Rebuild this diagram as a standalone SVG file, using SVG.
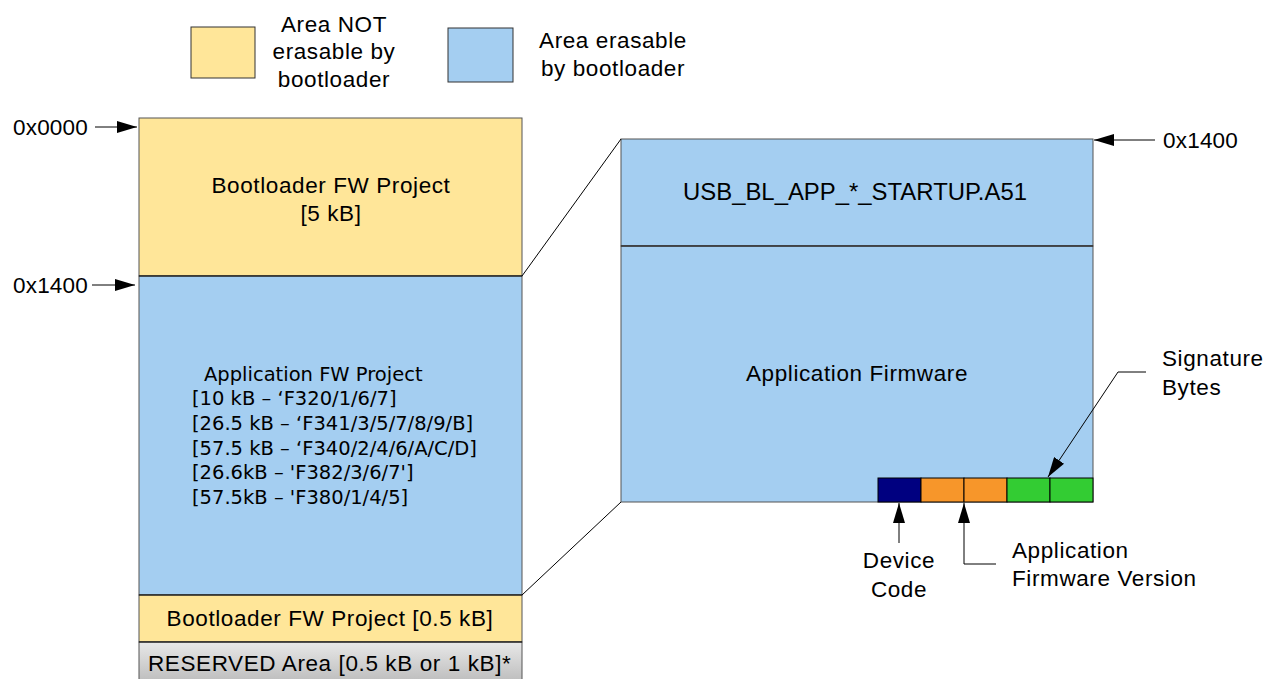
<svg xmlns="http://www.w3.org/2000/svg" width="1266" height="679" viewBox="0 0 1266 679">
<style>
.t{font-family:"Liberation Sans",Arial,sans-serif;font-size:22.5px;letter-spacing:0.6px;fill:#000}
.tah{font-family:"DejaVu Sans",Verdana,sans-serif;font-size:19.5px;fill:#000}
.yel{fill:#FFE699;stroke:#555;stroke-width:1}
.blu{fill:#A4CEF1;stroke:#555;stroke-width:1}
.ln{stroke:#000;stroke-width:1;fill:none}
</style>
<defs>
<marker id="ahw" viewBox="0 0 20 12" refX="20" refY="6" markerWidth="20" markerHeight="12" markerUnits="userSpaceOnUse" orient="auto">
<path d="M0,0 L20,6 L0,12 z" fill="#000"/>
</marker>
<linearGradient id="gray" x1="0" y1="0" x2="0" y2="1">
<stop offset="0" stop-color="#E8E8E8"/>
<stop offset="1" stop-color="#BDBDBD"/>
</linearGradient>
</defs>
<rect width="1266" height="679" fill="#fff"/>

<g id="legend-not">
<rect class="yel" x="191" y="27" width="64" height="51" style="stroke:#333"/>
<text class="t" x="334" y="32" text-anchor="middle">Area NOT</text>
<text class="t" x="334" y="59" text-anchor="middle">erasable by</text>
<text class="t" x="334" y="87" text-anchor="middle">bootloader</text>
</g>
<g id="legend-erasable">
<rect class="blu" x="448" y="28" width="65" height="54" style="stroke:#333"/>
<text class="t" x="613" y="48" text-anchor="middle">Area erasable</text>
<text class="t" x="613" y="76" text-anchor="middle">by bootloader</text>
</g>

<g id="bootloader-5kb">
<rect class="yel" x="139" y="118" width="383" height="158"/>
<text class="t" x="331" y="193" text-anchor="middle">Bootloader FW Project</text>
<text class="t" x="331" y="221" text-anchor="middle">[5 kB]</text>
</g>
<g id="application-fw">
<rect class="blu" x="139" y="276" width="383" height="319"/>
<text class="tah" x="204" y="381">Application FW Project</text>
<text class="tah" x="192" y="405">[10 kB – ‘F320/1/6/7]</text>
<text class="tah" x="192" y="430">[26.5 kB – ‘F341/3/5/7/8/9/B]</text>
<text class="tah" x="192" y="455">[57.5 kB – ‘F340/2/4/6/A/C/D]</text>
<text class="tah" x="192" y="479">[26.6kB – 'F382/3/6/7']</text>
<text class="tah" x="192" y="504">[57.5kB – 'F380/1/4/5]</text>
</g>
<g id="bootloader-05kb">
<rect class="yel" x="139" y="595" width="383" height="47"/>
<text class="t" x="330" y="626" text-anchor="middle">Bootloader FW Project [0.5 kB]</text>
</g>
<g id="reserved">
<rect x="139" y="642" width="383" height="40" fill="url(#gray)" stroke="#555"/>
<text class="t" x="148" y="671">RESERVED Area [0.5 kB or 1 kB]*</text>
</g>
<line x1="139" y1="276" x2="522" y2="276" stroke="#000"/>
<line x1="139" y1="595" x2="522" y2="595" stroke="#000"/>
<line x1="139" y1="642" x2="522" y2="642" stroke="#000"/>

<g id="startup">
<rect class="blu" x="621" y="139" width="472" height="107"/>
<text class="t" x="683" y="200" style="font-size:23.5px;letter-spacing:0" textLength="344" lengthAdjust="spacingAndGlyphs">USB_BL_APP_*_STARTUP.A51</text>
</g>
<g id="app-firmware">
<rect class="blu" x="621" y="246" width="472" height="256"/>
<text class="t" x="857" y="381" text-anchor="middle">Application Firmware</text>
</g>
<line x1="621" y1="246" x2="1093" y2="246" stroke="#333" stroke-width="1.5"/>
<g id="bytes">
<rect x="878" y="478" width="43" height="24" fill="#000080" stroke="#000"/>
<rect x="921" y="478" width="43" height="24" fill="#F7962A" stroke="#000"/>
<rect x="964" y="478" width="43" height="24" fill="#F7962A" stroke="#000"/>
<rect x="1007" y="478" width="43" height="24" fill="#33CC33" stroke="#000"/>
<rect x="1050" y="478" width="43" height="24" fill="#33CC33" stroke="#000"/>
</g>

<g id="labels">
<text class="t" x="88" y="135" text-anchor="end" style="letter-spacing:0.2px">0x0000</text>
<text class="t" x="88" y="293" text-anchor="end" style="letter-spacing:0.2px">0x1400</text>
<text class="t" x="1163" y="148" style="letter-spacing:0.2px">0x1400</text>
<text class="t" x="1162" y="366">Signature</text>
<text class="t" x="1162" y="395">Bytes</text>
<text class="t" x="899" y="568" text-anchor="middle">Device</text>
<text class="t" x="899" y="597" text-anchor="middle">Code</text>
<text class="t" x="1012" y="558">Application</text>
<text class="t" x="1012" y="586">Firmware Version</text>
</g>

<g id="connectors">
<line class="ln" x1="522" y1="276" x2="621" y2="139"/>
<line class="ln" x1="522" y1="595" x2="621" y2="502"/>
<line class="ln" x1="95" y1="127" x2="137" y2="127" marker-end="url(#ahw)"/>
<line class="ln" x1="92" y1="285" x2="135" y2="285" marker-end="url(#ahw)"/>
<line class="ln" x1="1155" y1="140" x2="1094" y2="140" marker-end="url(#ahw)"/>
<line class="ln" x1="899" y1="543" x2="899" y2="503" marker-end="url(#ahw)"/>
<polyline class="ln" points="996,564 964,564 964,503" marker-end="url(#ahw)"/>
<polyline class="ln" points="1146,372 1118,372 1048,477" marker-end="url(#ahw)"/>
</g>
</svg>
